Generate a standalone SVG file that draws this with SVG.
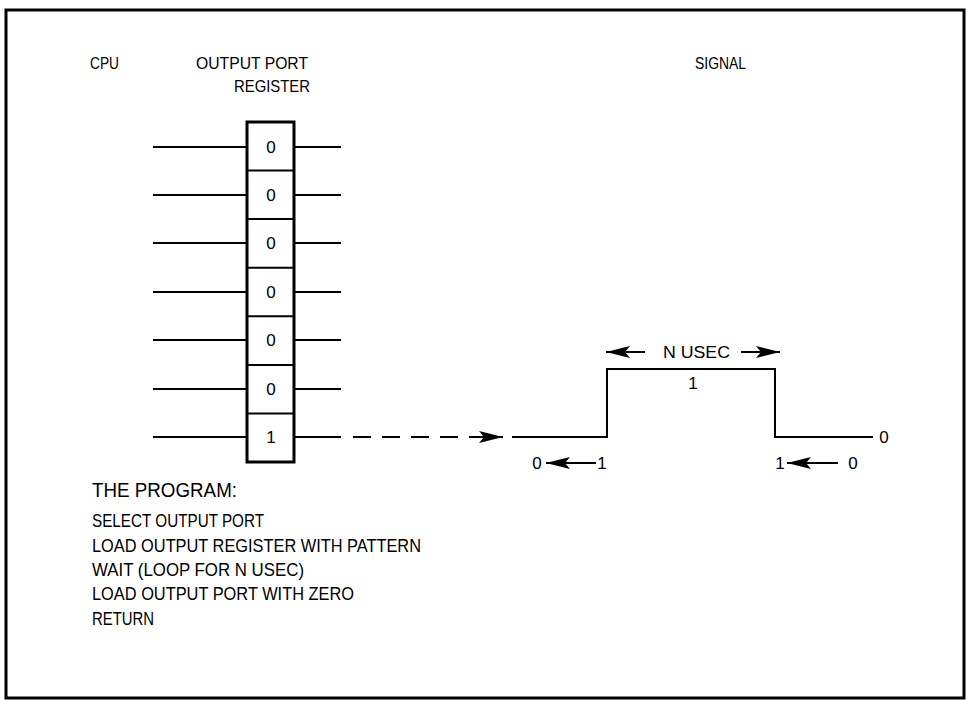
<svg xmlns="http://www.w3.org/2000/svg" width="969" height="701" viewBox="0 0 969 701">
<style>
text{font-family:"Liberation Sans",Arial,sans-serif;fill:#000}
.h{font-size:17px}
.d{font-size:17px;text-anchor:middle}
.p{font-size:18px}
.ln{stroke:#000;stroke-width:2;fill:none}
</style>
<defs>
<marker id="ah" viewBox="0 0 24 12" refX="24" refY="6" markerWidth="24" markerHeight="12" markerUnits="userSpaceOnUse" orient="auto"><path d="M0,0 L24,6 L0,12 L5,6 Z" fill="#000"/></marker>
</defs>
<rect x="6" y="10" width="958" height="688" fill="#fff" stroke="#000" stroke-width="3"/>
<g id="labels">
<text class="h" x="90" y="69" textLength="29" lengthAdjust="spacingAndGlyphs">CPU</text>
<text class="h" x="196" y="69" textLength="112" lengthAdjust="spacingAndGlyphs">OUTPUT PORT</text>
<text class="h" x="234" y="92" textLength="76" lengthAdjust="spacingAndGlyphs">REGISTER</text>
<text class="h" x="695" y="69" textLength="51" lengthAdjust="spacingAndGlyphs">SIGNAL</text>
</g>
<g id="register">
<rect x="247" y="122" width="47" height="340" fill="#fff" stroke="#000" stroke-width="3"/>
<path class="ln" d="M247,170.6H294M247,219.1H294M247,267.7H294M247,316.3H294M247,364.9H294M247,413.4H294" stroke-width="3"/>
<text class="d" x="271" y="153">0</text>
<text class="d" x="271" y="201">0</text>
<text class="d" x="271" y="249">0</text>
<text class="d" x="271" y="298">0</text>
<text class="d" x="271" y="346">0</text>
<text class="d" x="271" y="395">0</text>
<text class="d" x="271" y="443">1</text>
</g>
<g id="connectors">
<path class="ln" d="M153,147H247M153,195H247M153,243H247M153,292H247M153,340H247M153,389H247M153,437H247"/>
<path class="ln" d="M295,147H341M295,195H341M295,243H341M295,292H341M295,340H341M295,389H341M295,437H341"/>
<path class="ln" d="M353,437H503" stroke-dasharray="18,11" marker-end="url(#ah)"/>
</g>
<g id="signal">
<path class="ln" d="M512,437H607V369H775V437H873"/>
<text class="d" x="884" y="443">0</text>
<text class="h" x="663" y="358" textLength="67" lengthAdjust="spacingAndGlyphs">N USEC</text>
<path class="ln" d="M645,352H606" marker-end="url(#ah)"/>
<path class="ln" d="M741,352H780" marker-end="url(#ah)"/>
<text class="d" x="693" y="389">1</text>
<text class="d" x="537" y="469">0</text>
<path class="ln" d="M596,463H546" marker-end="url(#ah)"/>
<text class="d" x="602" y="469">1</text>
<text class="d" x="780" y="469">1</text>
<path class="ln" d="M838,463H787" marker-end="url(#ah)"/>
<text class="d" x="853" y="469">0</text>
</g>
<g id="program">
<text class="p" x="92" y="497" style="font-size:20px" textLength="145" lengthAdjust="spacingAndGlyphs">THE PROGRAM:</text>
<text class="p" x="92" y="527" textLength="172" lengthAdjust="spacingAndGlyphs">SELECT OUTPUT PORT</text>
<text class="p" x="92" y="552" textLength="329" lengthAdjust="spacingAndGlyphs">LOAD OUTPUT REGISTER WITH PATTERN</text>
<text class="p" x="92" y="576" textLength="212" lengthAdjust="spacingAndGlyphs">WAIT (LOOP FOR N USEC)</text>
<text class="p" x="92" y="600" textLength="262" lengthAdjust="spacingAndGlyphs">LOAD OUTPUT PORT WITH ZERO</text>
<text class="p" x="92" y="625" textLength="62" lengthAdjust="spacingAndGlyphs">RETURN</text>
</g>
</svg>
